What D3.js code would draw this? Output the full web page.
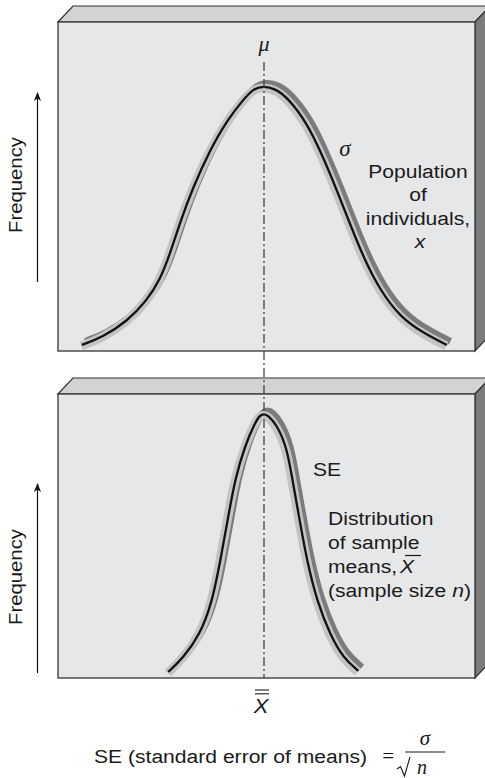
<!DOCTYPE html>
<html>
<head>
<meta charset="utf-8">
<script src="https://cdn.jsdelivr.net/npm/d3@7"></script>
<style>
  html, body { margin: 0; padding: 0; background: #fff; }
  text { font-family: "Liberation Sans", Arial, sans-serif; fill: #1a1a1a; }
  .serif { font-family: "Liberation Serif", "Times New Roman", serif; font-style: italic; }
</style>
</head>
<body>
<div id="container"></div>
<script>
// curve points: x = distance from the mean (population SD units),
// y = relative frequency (peak = 1)
const popX    = [-2.53, -2.24, -1.90, -1.63, -1.44, -1.31, -1.17, -0.99, -0.75, -0.51, -0.29, -0.15, 0,
                 0.15, 0.32, 0.60, 0.82, 1.01, 1.19, 1.38, 1.61, 1.89, 2.21, 2.54];
const popFreq = [0.048, 0.077, 0.135, 0.21, 0.29, 0.38, 0.495, 0.625, 0.765, 0.875, 0.949, 0.99, 1,
                 0.99, 0.96, 0.864, 0.739, 0.618, 0.496, 0.371, 0.25, 0.151, 0.092, 0.048];

const meanX    = [-1.33, -1.125, -0.89, -0.72, -0.61, -0.51, -0.40, -0.26, -0.125, -0.06, 0,
                  0.06, 0.18, 0.32, 0.40, 0.50, 0.60, 0.74, 0.92, 1.10, 1.31];
const meanFreq = [0.048, 0.100, 0.185, 0.306, 0.454, 0.601, 0.764, 0.886, 0.967, 0.995, 1,
                  0.995, 0.959, 0.875, 0.749, 0.601, 0.454, 0.306, 0.185, 0.100, 0.052];

const popLabel  = ["Population", "of", "individuals,"];
const meanLabel = ["Distribution", "of sample", "means,"];

const width = 485, height = 778;
const depth = { dx: 15, dy: 16 };       // box thickness
const panels = [
  { x0: 58, x1: 475, y0: 22,  y1: 351 },
  { x0: 58, x1: 475, y0: 394, y1: 678 }
];
const fs = 19, sx = 1.11;               // the figure's sans font runs wide

const svg = d3.select("#container").append("svg")
  .attr("width", width)
  .attr("height", height);

// shared x, one y per panel
const x    = d3.scaleLinear().domain([-3, 3]).range([264 - 216, 264 + 216]);
const yTop = d3.scaleLinear().domain([0, 1]).range([358, 86]);
const yBot = d3.scaleLinear().domain([0, 1]).range([685, 414]);

// boxes
panels.forEach(p => {
  const g = svg.append("g");
  g.append("polygon")
    .attr("points", [[p.x0, p.y0], [p.x0 + depth.dx, p.y0 - depth.dy], [p.x1 + depth.dx, p.y0 - depth.dy], [p.x1, p.y0]].join(" "))
    .attr("fill", "#d3d3d3").attr("stroke", "#333").attr("stroke-width", 1.2);
  g.append("polygon")
    .attr("points", [[p.x1, p.y0], [p.x1 + depth.dx, p.y0 - depth.dy], [p.x1 + depth.dx, p.y1 - depth.dy], [p.x1, p.y1]].join(" "))
    .attr("fill", "#7c7c7c").attr("stroke", "#333").attr("stroke-width", 1.2);
  g.append("rect")
    .attr("x", p.x0).attr("y", p.y0)
    .attr("width", p.x1 - p.x0).attr("height", p.y1 - p.y0)
    .attr("fill", "#e6e7e8").attr("stroke", "#333").attr("stroke-width", 1.3);
});

// tube-like curves
function tube(xs, ys, y) {
  const pts = xs.map((v, i) => [x(v), y(ys[i])]);
  const line = d3.line().curve(d3.curveBasis);
  const g = svg.append("g").attr("fill", "none");
  g.append("path").attr("d", line(pts))
    .attr("transform", "translate(3.5,-3.5)")
    .attr("stroke", "#7b7b7b").attr("stroke-width", 7);
  g.append("path").attr("d", line(pts))
    .attr("transform", "translate(-0.5,1)")
    .attr("stroke", "#c4c4c4").attr("stroke-width", 9);
  g.append("path").attr("d", line(pts))
    .attr("stroke", "#111").attr("stroke-width", 2.3);
}
tube(popX, popFreq, yTop);
tube(meanX, meanFreq, yBot);

// mean line
svg.append("line")
  .attr("x1", x(0)).attr("x2", x(0))
  .attr("y1", 62).attr("y2", panels[1].y1)
  .attr("stroke", "#444").attr("stroke-width", 1.3)
  .attr("stroke-dasharray", "9,3,2,3");

// helpers for text
function label(px, py, txt, opts = {}) {
  const t = svg.append("text")
    .attr("transform", `translate(${px},${py}) ${opts.rotate ? "rotate(-90)" : ""} scale(${opts.sx || sx},1)`)
    .attr("font-size", opts.size || fs)
    .attr("text-anchor", opts.anchor || "start");
  if (opts.cls) t.attr("class", opts.cls);
  if (opts.italic) t.attr("font-style", "italic");
  t.text(txt);
  return t;
}

// frequency arrows
const defs = svg.append("defs");
defs.append("marker")
  .attr("id", "head").attr("viewBox", "0 0 10 10")
  .attr("refX", 9).attr("refY", 5)
  .attr("markerWidth", 9).attr("markerHeight", 9)
  .attr("markerUnits", "userSpaceOnUse")
  .attr("orient", "auto")
  .append("path").attr("d", "M0,1 L10,5 L0,9 L3,5 Z").attr("fill", "#111");

[[282, 92, 185], [673, 483, 577]].forEach(([yb, yt, yc]) => {
  svg.append("line")
    .attr("x1", 37.5).attr("x2", 37.5).attr("y1", yb).attr("y2", yt + 1)
    .attr("stroke", "#111").attr("stroke-width", 1.2)
    .attr("marker-end", "url(#head)");
  label(22, yc, "Frequency", { rotate: true, anchor: "middle", sx: 1.07 });
});

// top panel labels
label(x(0), 51, "μ", { cls: "serif", anchor: "middle", size: 22, sx: 1 });
label(345, 156, "σ", { cls: "serif", anchor: "middle", size: 23, sx: 1 });
popLabel.forEach((s, i) => label(418, 178 + i * 23.3, s, { anchor: "middle" }));
label(420, 248, "x", { anchor: "middle", italic: true });

// bottom panel labels
label(313, 476, "SE");
meanLabel.forEach((s, i) => label(328, 525 + i * 24, s));
label(400, 573, "X", { italic: true });
svg.append("line").attr("x1", 405).attr("x2", 421).attr("y1", 555.5).attr("y2", 555.5)
  .attr("stroke", "#1a1a1a").attr("stroke-width", 1.2);
const last = label(328, 597, "(sample size ");
last.append("tspan").attr("font-style", "italic").text("n");
last.append("tspan").text(")");

// grand mean under the axis
label(261, 713, "X", { italic: true, anchor: "middle", size: 21, sx: 1.05 });
[690, 693.8].forEach(yy => svg.append("line")
  .attr("x1", 255).attr("x2", 269).attr("y1", yy).attr("y2", yy)
  .attr("stroke", "#1a1a1a").attr("stroke-width", 1.1));

// formula
label(94, 763, "SE (standard error of means)");
label(388, 763, "=", { cls: "serif", anchor: "middle", size: 21, sx: 1 });
label(425, 745, "σ", { cls: "serif", anchor: "middle", size: 21, sx: 1 });
svg.append("line").attr("x1", 405).attr("x2", 445).attr("y1", 752).attr("y2", 752)
  .attr("stroke", "#1a1a1a").attr("stroke-width", 1.2);
svg.append("path").attr("d", "M397,769 L400.5,766.5 L404.5,776 L410,757")
  .attr("fill", "none").attr("stroke", "#1a1a1a").attr("stroke-width", 1.1);
label(422, 774, "n", { cls: "serif", anchor: "middle", size: 20, sx: 1 });
</script>
</body>
</html>
